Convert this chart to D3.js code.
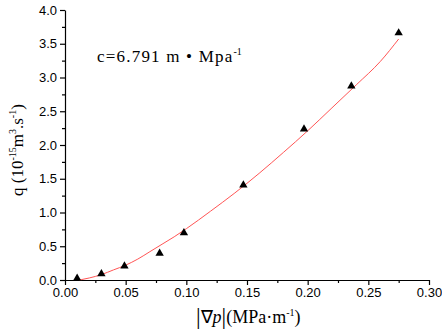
<!DOCTYPE html>
<html>
<head>
<meta charset="utf-8">
<script src="https://cdn.jsdelivr.net/npm/d3@7"></script>
<style>
  body { margin: 0; background: #fff; }
  .tick text { font-family: "Liberation Sans", Arial, sans-serif; font-size: 13px; fill: #000; }
  .serif { font-family: "Liberation Serif", "Times New Roman", serif; fill: #000; }
</style>
</head>
<body>
<script>
// measured points
var gradP = [0.010, 0.030, 0.049, 0.078, 0.098, 0.147, 0.197, 0.236, 0.275];
var flow  = [0.025, 0.093, 0.207, 0.395, 0.700, 1.407, 2.237, 2.874, 3.660];

// fitted curve
var fitX = [0.012, 0.02, 0.03, 0.04, 0.05, 0.06, 0.07, 0.08, 0.09, 0.10, 0.12, 0.14, 0.16, 0.18, 0.20, 0.22, 0.24, 0.26, 0.275];
var fitY = [0.00, 0.03, 0.08, 0.15, 0.22, 0.31, 0.42, 0.53, 0.64, 0.76, 1.02, 1.29, 1.58, 1.89, 2.21, 2.55, 2.89, 3.24, 3.57];

var xTicks = [0, 0.05, 0.10, 0.15, 0.20, 0.25, 0.30];
var yTicks = [0, 0.5, 1.0, 1.5, 2.0, 2.5, 3.0, 3.5, 4.0];

var w = 442, h = 333;
var mLeft = 65, mRight = 429, mTop = 10, mBottom = 280;

var svg = d3.select("body").append("svg")
    .attr("width", w)
    .attr("height", h);

var x = d3.scaleLinear().domain([0, 0.30]).range([mLeft, mRight]);
var y = d3.scaleLinear().domain([0, 4.0]).range([mBottom, mTop]);

// minor ticks first, then major axis on top
svg.append("g")
    .attr("transform", "translate(0," + mBottom + ")")
    .call(d3.axisBottom(x).tickValues(d3.range(0.025, 0.3, 0.05)).tickSize(3).tickFormat(""))
    .call(g => g.select(".domain").remove());
svg.append("g")
    .attr("transform", "translate(" + mLeft + ",0)")
    .call(d3.axisLeft(y).tickValues(d3.range(0.25, 4, 0.5)).tickSize(3).tickFormat(""))
    .call(g => g.select(".domain").remove());

svg.append("g")
    .attr("transform", "translate(0," + mBottom + ")")
    .call(d3.axisBottom(x).tickValues(xTicks).tickSize(5).tickSizeOuter(0).tickPadding(3)
        .tickFormat(d3.format(".2f")));

svg.append("g")
    .attr("transform", "translate(" + mLeft + ",0)")
    .call(d3.axisLeft(y).tickValues(yTicks).tickSize(5).tickSizeOuter(0).tickPadding(3)
        .tickFormat(d3.format(".1f")));

svg.selectAll(".domain, .tick line").attr("stroke", "#000").attr("stroke-width", 1.2);

// fit line
var line = d3.line()
    .x(function(d, i) { return x(fitX[i]); })
    .y(function(d, i) { return y(fitY[i]); })
    .curve(d3.curveMonotoneX);

svg.append("path")
    .datum(fitX)
    .attr("d", line)
    .attr("fill", "none")
    .attr("stroke", "#ff5555")
    .attr("stroke-width", 1);

// triangles
svg.selectAll(".pt")
    .data(gradP)
    .enter().append("path")
    .attr("class", "pt")
    .attr("d", d3.symbol().type(d3.symbolTriangle).size(30))
    .attr("transform", function(d, i) { return "translate(" + x(d) + "," + y(flow[i]) + ")"; })
    .attr("fill", "#000");

// annotation
var ann = svg.append("text").attr("class", "serif")
    .attr("x", 97).attr("y", 62).style("font-size", "17px");
ann.append("tspan").style("letter-spacing", "1.2px").text("c=6.791 m \u2022 Mpa");
ann.append("tspan").attr("dy", -7).style("font-size", "10px").text("-1");

// x title
var xt = svg.append("text").attr("class", "serif")
    .attr("x", 196).attr("y", 323).style("font-size", "18px");
xt.append("tspan").style("font-size", "23px").attr("dy", 1).text("|");
xt.append("tspan").attr("dy", -1).text("\u2207");
xt.append("tspan").style("font-style", "italic").text("p");
xt.append("tspan").style("font-size", "23px").attr("dy", 1).text("|");
xt.append("tspan").attr("dy", -1).text("(MPa\u00b7m");
xt.append("tspan").attr("dy", -7).style("font-size", "10px").text("-1");
xt.append("tspan").attr("dy", 7).text(")");

// y title
var yt = svg.append("text").attr("class", "serif")
    .attr("transform", "translate(23,196) rotate(-90)")
    .style("font-size", "17px");
yt.append("tspan").text("q (10");
yt.append("tspan").attr("dy", -7).style("font-size", "10px").text("-15");
yt.append("tspan").attr("dy", 7).text("m");
yt.append("tspan").attr("dy", -7).style("font-size", "10px").text("3");
yt.append("tspan").attr("dy", 7).text(".s");
yt.append("tspan").attr("dy", -7).style("font-size", "10px").text("-1");
yt.append("tspan").attr("dy", 7).text(")");
</script>
</body>
</html>
